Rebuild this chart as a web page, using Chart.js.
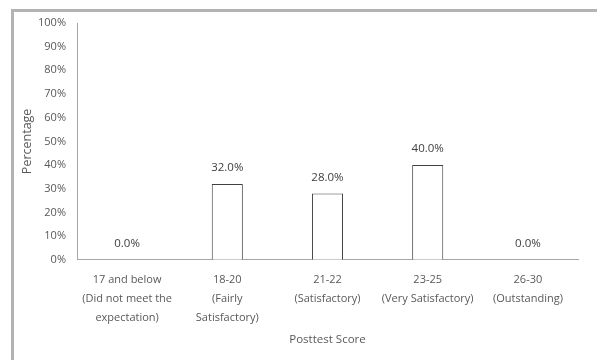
<!DOCTYPE html>
<html><head><meta charset="utf-8">
<script src="https://cdn.jsdelivr.net/npm/chart.js@4.4.0/dist/chart.umd.min.js"></script>
<style>
html,body{margin:0;padding:0;background:#fff;}
#wrap{position:relative;width:597px;height:360px;}
#frame{position:absolute;left:11px;top:9px;width:600px;height:400px;border-top:3px solid #b3b3b3;border-left:3px solid #b3b3b3;box-sizing:border-box;}
canvas{position:absolute;left:0;top:0;}
</style></head>
<body><div id="wrap"><div id="frame"></div><canvas id="c" width="597" height="360"></canvas></div>
<script>
const categories = [
  ["17 and below","(Did not meet the","expectation)"],
  ["18-20","(Fairly","Satisfactory)"],
  ["21-22","(Satisfactory)"],
  ["23-25","(Very Satisfactory)"],
  ["26-30","(Outstanding)"]
];
const percentages = [0.0, 32.0, 28.0, 40.0, 0.0];
const yTicks = [0,10,20,30,40,50,60,70,80,90,100];

const FONT = "'Open Sans', Lato, sans-serif";

const valueLabels = {
  id:'valueLabels',
  afterDatasetsDraw(chart){
    const ctx = chart.ctx;
    const meta = chart.getDatasetMeta(0);
    ctx.save();
    ctx.font = "11.5px " + FONT;
    ctx.fillStyle = "#404040";
    ctx.textAlign = "center";
    ctx.textBaseline = "middle";
    meta.data.forEach((el,i)=>{
      ctx.fillText(percentages[i].toFixed(1)+"%", el.x, el.y - 16);
    });
    ctx.restore();
  }
};

new Chart(document.getElementById('c'), {
  type:'bar',
  data:{labels:categories, datasets:[{data:percentages, backgroundColor:'#ffffff', borderColor:'#404040', borderWidth:1, categoryPercentage:1.0, barPercentage:0.31}]},
  options:{
    responsive:false, animation:false,
    layout:{padding:{left:6, right:19, top:23, bottom:15}},
    plugins:{legend:{display:false}, tooltip:{enabled:false}},
    scales:{
      x:{
        grid:{display:false, drawTicks:false},
        border:{display:true, color:'#a6a6a6', width:1},
        ticks:{color:'#595959', font:{family:FONT, size:11, lineHeight:1.72}, padding:11, maxRotation:0, autoSkip:false},
        title:{display:true, text:'Posttest Score', color:'#595959', font:{family:FONT, size:11.5, lineHeight:1.0}, padding:{top:-5, bottom:0}}
      },
      y:{
        min:0, max:100,
        afterBuildTicks(axis){ axis.ticks = yTicks.map(v=>({value:v})); },
        afterFit(axis){ axis.width = 71; },
        grid:{display:false, drawTicks:false},
        border:{display:true, color:'#a6a6a6', width:1},
        ticks:{color:'#595959', font:{family:FONT, size:11}, padding:11, callback:v=>v+'%'},
        title:{display:true, text:'Percentage', color:'#595959', font:{family:FONT, size:12.5}, padding:{top:14, bottom:0}}
      }
    }
  },
  plugins:[valueLabels]
});
</script></body></html>
